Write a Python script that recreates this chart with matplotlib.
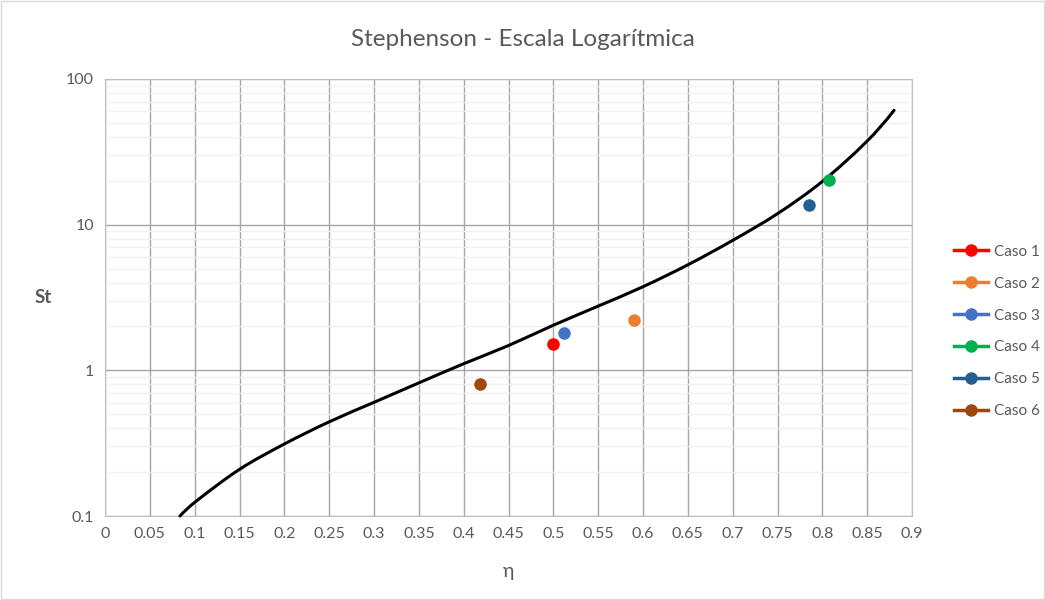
import matplotlib
matplotlib.use("Agg")
import matplotlib.pyplot as plt
import numpy as np
from matplotlib.patches import Rectangle, PathPatch
from matplotlib.path import Path
from matplotlib.ticker import LogLocator, NullFormatter

# curve
eta_curve = [0.0836, 0.1, 0.15, 0.2, 0.25, 0.3, 0.35, 0.4, 0.45, 0.5, 0.55, 0.6,
             0.65, 0.7, 0.75, 0.8, 0.85, 0.88]
st_curve = [0.1, 0.124, 0.209, 0.312, 0.443, 0.603, 0.82, 1.11, 1.48, 2.04, 2.76, 3.75,
            5.3, 7.8, 11.9, 19.8, 37.5, 61.0]

# cases
case_names = ["Caso 1", "Caso 2", "Caso 3", "Caso 4", "Caso 5", "Caso 6"]
case_eta = [0.500, 0.590, 0.512, 0.807, 0.785, 0.418]
case_st = [1.52, 2.21, 1.81, 20.4, 13.7, 0.80]
case_colors = ["#FF0000", "#ED7D31", "#4472C4", "#00B050", "#255E91", "#9E480E"]

x_ticks = [round(0.05 * i, 2) for i in range(19)]
x_labels = ["0", "0.05", "0.1", "0.15", "0.2", "0.25", "0.3", "0.35", "0.4", "0.45",
            "0.5", "0.55", "0.6", "0.65", "0.7", "0.75", "0.8", "0.85", "0.9"]
y_ticks = [0.1, 1, 10, 100]
y_labels = ["0.1", "1", "10", "100"]

plt.rcParams['font.family'] = ['Lato', 'DejaVu Sans']

fig = plt.figure(figsize=(10.45, 6), dpi=100)
ax = fig.add_axes([105 / 1045, 1 - 516 / 600, (912 - 105) / 1045, (516 - 79) / 600])

ax.set_yscale('log')
ax.set_xlim(0, 0.9)
ax.set_ylim(0.1, 100)

ax.yaxis.set_minor_locator(LogLocator(base=10, subs=range(2, 10)))
ax.yaxis.set_minor_formatter(NullFormatter())
ax.set_xticks(x_ticks)
ax.set_xticklabels(x_labels)
ax.set_yticks(y_ticks)
ax.set_yticklabels(y_labels)

ax.grid(axis='x', which='major', color='#a6a6a6', linewidth=1.0)
ax.grid(axis='y', which='major', color='#a6a6a6', linewidth=1.0)
ax.grid(axis='y', which='minor', color='#f0f0f0', linewidth=1.0)
ax.set_axisbelow(True)

ax.tick_params(axis='both', which='both', length=0, labelsize=11.5, labelcolor='#595959', pad=8)
for s in ax.spines.values():
    s.set_color('#bfbfbf')

# smoothed line like Excel: cubic Hermite through the points in x / log10(y) space
px = np.array(eta_curve)
py = np.log10(st_curve)
n = len(px)
slopes = np.empty(n)
for i in range(1, n - 1):
    slopes[i] = (py[i + 1] - py[i - 1]) / (px[i + 1] - px[i - 1])
slopes[0] = 2 * (py[1] - py[0]) / (px[1] - px[0]) - slopes[1]
slopes[-1] = 2 * (py[-1] - py[-2]) / (px[-1] - px[-2]) - slopes[-2]
verts = [(px[0], py[0])]
codes = [Path.MOVETO]
for i in range(n - 1):
    h = px[i + 1] - px[i]
    verts += [(px[i] + h / 3, py[i] + slopes[i] * h / 3),
              (px[i + 1] - h / 3, py[i + 1] - slopes[i + 1] * h / 3),
              (px[i + 1], py[i + 1])]
    codes += [Path.CURVE4] * 3
verts = [(vx, 10 ** vy) for vx, vy in verts]
curve = PathPatch(Path(verts, codes), facecolor='none', edgecolor='black', linewidth=2.2,
                  transform=ax.transData, zorder=3, clip_on=False, capstyle='round')
ax.add_patch(curve)

for name, xe, ys, c in zip(case_names, case_eta, case_st, case_colors):
    ax.plot([xe], [ys], marker='o', markersize=8, color=c, linestyle='-', linewidth=2.5,
            label=name, zorder=4)

leg = ax.legend(loc='upper left', bbox_to_anchor=(1.035, 0.652), frameon=False,
                fontsize=11, labelspacing=1.17, handlelength=2.2, handletextpad=0.4)
for t in leg.get_texts():
    t.set_color('#595959')

ax.set_xlabel('η', fontsize=14, color='#595959', labelpad=16)
ax.set_ylabel('St', fontsize=13.5, color='#595959', fontweight='bold', rotation=0, labelpad=16,
              va='center')
fig.text(0.5, 1 - 40 / 600, 'Stephenson - Escala Logarítmica', ha='center', va='center',
         fontsize=17.5, color='#595959')

fig.patches.append(Rectangle((0.001, 0.001), 0.998, 0.997, transform=fig.transFigure,
                             fill=False, edgecolor='#d9d9d9', linewidth=1))

fig.savefig('out.png', dpi=100)
